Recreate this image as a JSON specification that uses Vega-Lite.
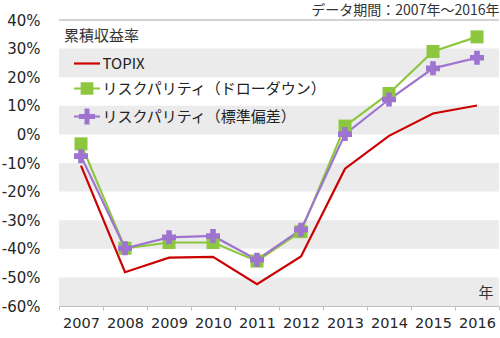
{
  "$schema": "https://vega.github.io/schema/vega-lite/v6.json",
  "width": 440,
  "height": 286,
  "autosize": {"type": "none"},
  "padding": {"top": 20, "left": 59, "right": 1, "bottom": 32},
  "background": "#ffffff",
  "title": {
    "text": "データ期間：2007年～2016年",
    "anchor": "end",
    "orient": "top",
    "font": "Noto Sans CJK JP",
    "fontSize": 14,
    "fontWeight": "normal",
    "color": "#333333",
    "offset": -5
  },
  "config": {
    "view": {"stroke": null},
    "axisY": {"labelOverlap": false, "labelBound": false, "labelFlush": false}
  },
  "datasets": {
    "returns": [
      {"year": "2007", "series": "TOPIX", "value": -10.9},
      {"year": "2008", "series": "TOPIX", "value": -48.2},
      {"year": "2009", "series": "TOPIX", "value": -43.1},
      {"year": "2010", "series": "TOPIX", "value": -42.8},
      {"year": "2011", "series": "TOPIX", "value": -52.4},
      {"year": "2012", "series": "TOPIX", "value": -42.7},
      {"year": "2013", "series": "TOPIX", "value": -12.0},
      {"year": "2014", "series": "TOPIX", "value": -0.5},
      {"year": "2015", "series": "TOPIX", "value": 7.3},
      {"year": "2016", "series": "TOPIX", "value": 10.1},
      {"year": "2007", "series": "リスクパリティ（ドローダウン）", "value": -3.3},
      {"year": "2008", "series": "リスクパリティ（ドローダウン）", "value": -39.8},
      {"year": "2009", "series": "リスクパリティ（ドローダウン）", "value": -37.8},
      {"year": "2010", "series": "リスクパリティ（ドローダウン）", "value": -37.8},
      {"year": "2011", "series": "リスクパリティ（ドローダウン）", "value": -44.3},
      {"year": "2012", "series": "リスクパリティ（ドローダウン）", "value": -34.0},
      {"year": "2013", "series": "リスクパリティ（ドローダウン）", "value": 2.9},
      {"year": "2014", "series": "リスクパリティ（ドローダウン）", "value": 14.3},
      {"year": "2015", "series": "リスクパリティ（ドローダウン）", "value": 29.0},
      {"year": "2016", "series": "リスクパリティ（ドローダウン）", "value": 34.1},
      {"year": "2007", "series": "リスクパリティ（標準偏差）", "value": -7.6},
      {"year": "2008", "series": "リスクパリティ（標準偏差）", "value": -39.8},
      {"year": "2009", "series": "リスクパリティ（標準偏差）", "value": -36.0},
      {"year": "2010", "series": "リスクパリティ（標準偏差）", "value": -35.5},
      {"year": "2011", "series": "リスクパリティ（標準偏差）", "value": -43.8},
      {"year": "2012", "series": "リスクパリティ（標準偏差）", "value": -33.3},
      {"year": "2013", "series": "リスクパリティ（標準偏差）", "value": 0.1},
      {"year": "2014", "series": "リスクパリティ（標準偏差）", "value": 12.2},
      {"year": "2015", "series": "リスクパリティ（標準偏差）", "value": 23.1},
      {"year": "2016", "series": "リスクパリティ（標準偏差）", "value": 26.8}
    ],
    "bands": [
      {"lo": 20, "hi": 30},
      {"lo": 0, "hi": 10},
      {"lo": -20, "hi": -10},
      {"lo": -40, "hi": -30},
      {"lo": -60, "hi": -50}
    ],
    "top": [{"v": 40}]
  },
  "layer": [
    {
      "data": {"name": "bands"},
      "mark": {"type": "rect", "color": "#EBEBEB"},
      "encoding": {
        "y": {
          "field": "lo",
          "type": "quantitative",
          "scale": {"domain": [-60, 40], "nice": false, "zero": false}
        },
        "y2": {"field": "hi"}
      }
    },
    {
      "data": {"name": "top"},
      "mark": {"type": "rule", "color": "#A6A6A6", "strokeWidth": 1},
      "encoding": {"y": {"field": "v", "type": "quantitative"}}
    },
    {
      "data": {"name": "returns"},
      "mark": {"type": "line", "strokeWidth": 2.2},
      "encoding": {
        "x": {
          "field": "year",
          "type": "nominal",
          "sort": null,
          "scale": {"type": "band", "paddingInner": 0, "paddingOuter": 0},
          "axis": {
            "zindex": 1,
            "labelAngle": 0,
            "domainColor": "#BFBFBF",
            "tickColor": "#BFBFBF",
            "tickBand": "extent",
            "tickSize": 4,
            "labelPadding": 6,
            "labelFont": "DejaVu Sans",
            "labelFontSize": 14.5,
            "labelColor": "#262626",
            "title": "年",
            "titleFont": "Noto Sans CJK JP",
            "titleFontSize": 15,
            "titleFontWeight": "normal",
            "titleColor": "#333333",
            "titleAlign": "right",
            "titleBaseline": "bottom",
            "titleX": 434,
            "titleY": -6
          }
        },
        "y": {
          "field": "value",
          "type": "quantitative",
          "axis": {
            "values": [-60, -50, -40, -30, -20, -10, 0, 10, 20, 30, 40],
            "tickCount": 11,
            "labelExpr": "datum.value + '%'",
            "labelOverlap": false,
            "domain": false,
            "ticks": false,
            "grid": false,
            "labelFont": "DejaVu Sans",
            "labelFontSize": 15,
            "labelColor": "#262626",
            "labelPadding": 19,
            "title": null
          }
        },
        "color": {
          "field": "series",
          "type": "nominal",
          "scale": {
            "domain": ["TOPIX", "リスクパリティ（ドローダウン）", "リスクパリティ（標準偏差）"],
            "range": ["#CC0000", "#8DC63F", "#9E74D0"]
          },
          "legend": {
            "orient": "none",
            "legendX": 5,
            "legendY": 9,
            "padding": 0,
            "title": "累積収益率",
            "titleFont": "Noto Sans CJK JP",
            "titleFontSize": 15,
            "titleFontWeight": "normal",
            "titleColor": "#333333",
            "titlePadding": 11,
            "labelFont": "Noto Sans CJK JP",
            "labelFontSize": 15,
            "labelColor": "#222222",
            "labelLimit": 400,
            "symbolSize": 196,
            "symbolStrokeWidth": 2.2,
            "symbolOffset": 14.5,
            "labelOffset": 7,
            "rowPadding": 6,
            "encode": {
              "symbols": {
                "update": {
                  "shape": {"signal": "datum.value === 'TOPIX' ? 'M-1.86,0H1.86' : (datum.value === 'リスクパリティ（ドローダウン）' ? 'M-1.86,0H1.86M-0.75,-0.75H0.75V0.75H-0.75Z' : 'M-1.86,0H1.86M-0.2,-1H0.2V-0.2H1V0.2H0.2V1H-0.2V0.2H-1V-0.2H-0.2Z')"},
                  "fill": {"signal": "scale('color', datum.value)"},
                  "stroke": {"signal": "scale('color', datum.value)"},
                  "strokeWidth": {"value": 2.2},
                  "opacity": {"value": 1}
                }
              }
            }
          }
        }
      }
    },
    {
      "data": {"name": "returns"},
      "transform": [{"filter": "datum.series !== 'TOPIX'"}],
      "mark": {"type": "point", "filled": true, "opacity": 1},
      "encoding": {
        "x": {"field": "year", "type": "nominal", "sort": null},
        "y": {"field": "value", "type": "quantitative"},
        "color": {"field": "series", "type": "nominal"},
        "shape": {
          "field": "series",
          "type": "nominal",
          "scale": {
            "domain": ["リスクパリティ（ドローダウン）", "リスクパリティ（標準偏差）"],
            "range": ["square", "cross"]
          },
          "legend": null
        },
        "size": {
          "field": "series",
          "type": "nominal",
          "scale": {
            "domain": ["リスクパリティ（ドローダウン）", "リスクパリティ（標準偏差）"],
            "range": [169, 196]
          },
          "legend": null
        }
      }
    }
  ]
}
